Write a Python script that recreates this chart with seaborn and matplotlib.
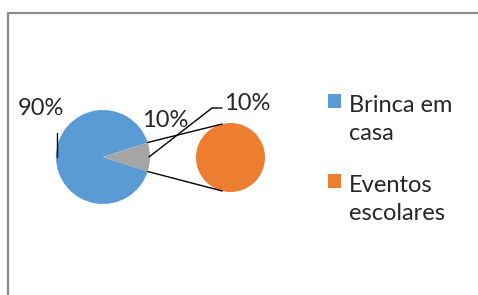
import numpy as np
import matplotlib.pyplot as plt
import seaborn as sns

# %% data
categories = ["Brinca em\ncasa", "Eventos\nescolares"]
main_values = [90, 10]          # main pie: Brinca em casa + "other" slice
second_values = [10]            # secondary pie: Eventos escolares
main_labels = ["90%", "10%"]
second_labels = ["10%"]

blue = "#5B9BD5"
gray = "#A5A5A5"
orange = "#ED7D31"

# %% style
sns.set_style("white")
plt.rcParams["font.family"] = ["Lato", "DejaVu Sans"]

W, H = 478, 295
fig = plt.figure(figsize=(W / 100, H / 100), dpi=100)
ax = fig.add_axes([0, 0, 1, 1])

def Y(y):
    return H - y

# %% main pie
c1 = (103, Y(157))
r1 = 47
other_deg = 360 * main_values[1] / sum(main_values)
ax.pie(main_values, colors=[blue, gray], center=c1, radius=r1,
       startangle=other_deg / 2, counterclock=True,
       wedgeprops=dict(linewidth=0), frame=True)

# %% secondary pie
c2 = (230.5, Y(157.5))
r2 = 34.5
ax.pie(second_values, colors=[orange], center=c2, radius=r2,
       wedgeprops=dict(linewidth=0), frame=True)
ax.set_xlim(0, W)
ax.set_ylim(0, H)
ax.set_aspect("equal")
ax.axis("off")

# chart frame
ax.plot([8.5, 8.5, W + 5], [Y(H + 5), Y(12.5), Y(12.5)], color="#8C8C8C", lw=1.6,
        solid_capstyle="butt")

# connector lines between the "other" slice and the secondary pie
half = np.deg2rad(other_deg / 2)
for s in (1, -1):
    p0 = (c1[0] + r1 * np.cos(half), c1[1] + s * r1 * np.sin(half))
    a = np.deg2rad(s * 104)
    p1 = (c2[0] + r2 * np.cos(a), c2[1] + r2 * np.sin(a))
    ax.plot([p0[0], p1[0]], [p0[1], p1[1]], color="black", lw=1)

# %% data labels with leader lines
fs = 17
ax.text(40.5, Y(115), main_labels[0], fontsize=fs, ha="center", va="baseline")
ax.plot([57, 57], [Y(133), Y(157)], color="black", lw=1)

ax.text(165, Y(127), main_labels[1], fontsize=fs, ha="center", va="baseline")

ax.text(247.5, Y(110), second_labels[0], fontsize=fs, ha="center", va="baseline")
ax.plot([149, 212, 222], [Y(157), Y(108), Y(108)], color="black", lw=1)

# %% legend
for i, (lab, col) in enumerate(zip(categories, [blue, orange])):
    yb = 110 + i * 80
    ax.add_patch(plt.Rectangle((328, Y(yb - 2)), 13, 14, color=col, lw=0))
    # baseline of the last line; first line sits 30 px higher
    ax.text(349, Y(yb + 30), lab, fontsize=fs, ha="left", va="baseline",
            linespacing=1.41)

fig.savefig("out.png", dpi=100)
